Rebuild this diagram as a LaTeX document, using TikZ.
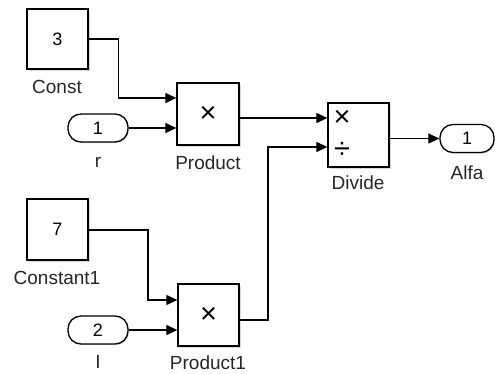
\documentclass[tikz,border=0pt]{standalone}
\usepackage{fontspec}
\setmainfont{Liberation Sans}
\usetikzlibrary{arrows.meta,shadows}
\begin{document}
\begin{tikzpicture}[x=1pt,y=-1pt,
  blk/.style={draw, line width=1.3pt, fill=white, inner sep=0pt,
    drop shadow={shadow xshift=1.6pt, shadow yshift=-1.6pt, fill=black!22, opacity=0.7}},
  port/.style={draw, line width=1.3pt, fill=white, inner sep=0pt, rounded corners=13pt,
    minimum height=28pt, font=\fontsize{18}{20}\selectfont,
    drop shadow={shadow xshift=1.2pt, shadow yshift=-1.2pt, fill=black!22, opacity=0.7}},
  lbl/.style={inner sep=0pt, text=black!85, font=\fontsize{19}{21}\selectfont},
  sym/.style={inner sep=0pt, font=\fontsize{29}{31}\selectfont},
  arr/.style={line width=1.2pt, -{Triangle[length=11pt,width=10pt]}}
]
\useasboundingbox (0,0) rectangle (495,374);

% blocks
\node[blk, minimum width=61pt, minimum height=60pt, font=\fontsize{18}{20}\selectfont] (const) at (57.5,39) {3};
\node[blk, minimum width=61pt, minimum height=61pt, font=\fontsize{18}{20}\selectfont] (cst1) at (57.5,229.5) {7};
\node[blk, minimum width=62pt, minimum height=62pt] (prod) at (208,114) {};
\node[blk, minimum width=61pt, minimum height=62pt] (prod1) at (208.5,315) {};
\node[blk, minimum width=61pt, minimum height=64pt] (div) at (358.5,135) {};

\node[sym] (xp) at (208,114) {×};
\node[sym] (xp1) at (208.5,315) {×};
\node[sym] (xd) at (342,118) {×};
\node[sym] (dd) at (342,150) {÷};

% ports
\node[port, minimum width=60pt] (r) at (98,128) {1};
\node[port, minimum width=60pt] (inI) at (98,330) {2};
\node[port, minimum width=54pt] (alfa) at (467,138.5) {1};

% labels
\node[lbl] (lconst) at (57,87) {Const};
\node[lbl] (lr) at (98,162) {r};
\node[lbl] (lprod) at (208,163) {Product};
\node[lbl] (lcst1) at (57,278) {Constant1};
\node[lbl] (lI) at (98,362) {I};
\node[lbl] (lprod1) at (208,363) {Product1};
\node[lbl] (ldiv) at (358,183) {Divide};
\node[lbl] (lalfa) at (467,173) {Alfa};

% connectors
\draw[arr] (const.east) -- ++(30,0) |- (prod.west |- 0,98);
\draw[arr] (r.east) -- (prod.west |- r.east);
\draw[arr] (prod.east |- 0,118) -- (div.west |- 0,118);
\draw[arr] (div.east |- 0,138.5) -- (alfa.west);
\draw[arr] (cst1.east |- 0,230) -- (148,230) |- (prod1.west |- 0,300);
\draw[arr] (inI.east) -- (prod1.west |- inI.east);
\draw[arr] (prod1.east |- 0,320) -- (268,320) |- (div.west |- 0,147);
\end{tikzpicture}
\end{document}
